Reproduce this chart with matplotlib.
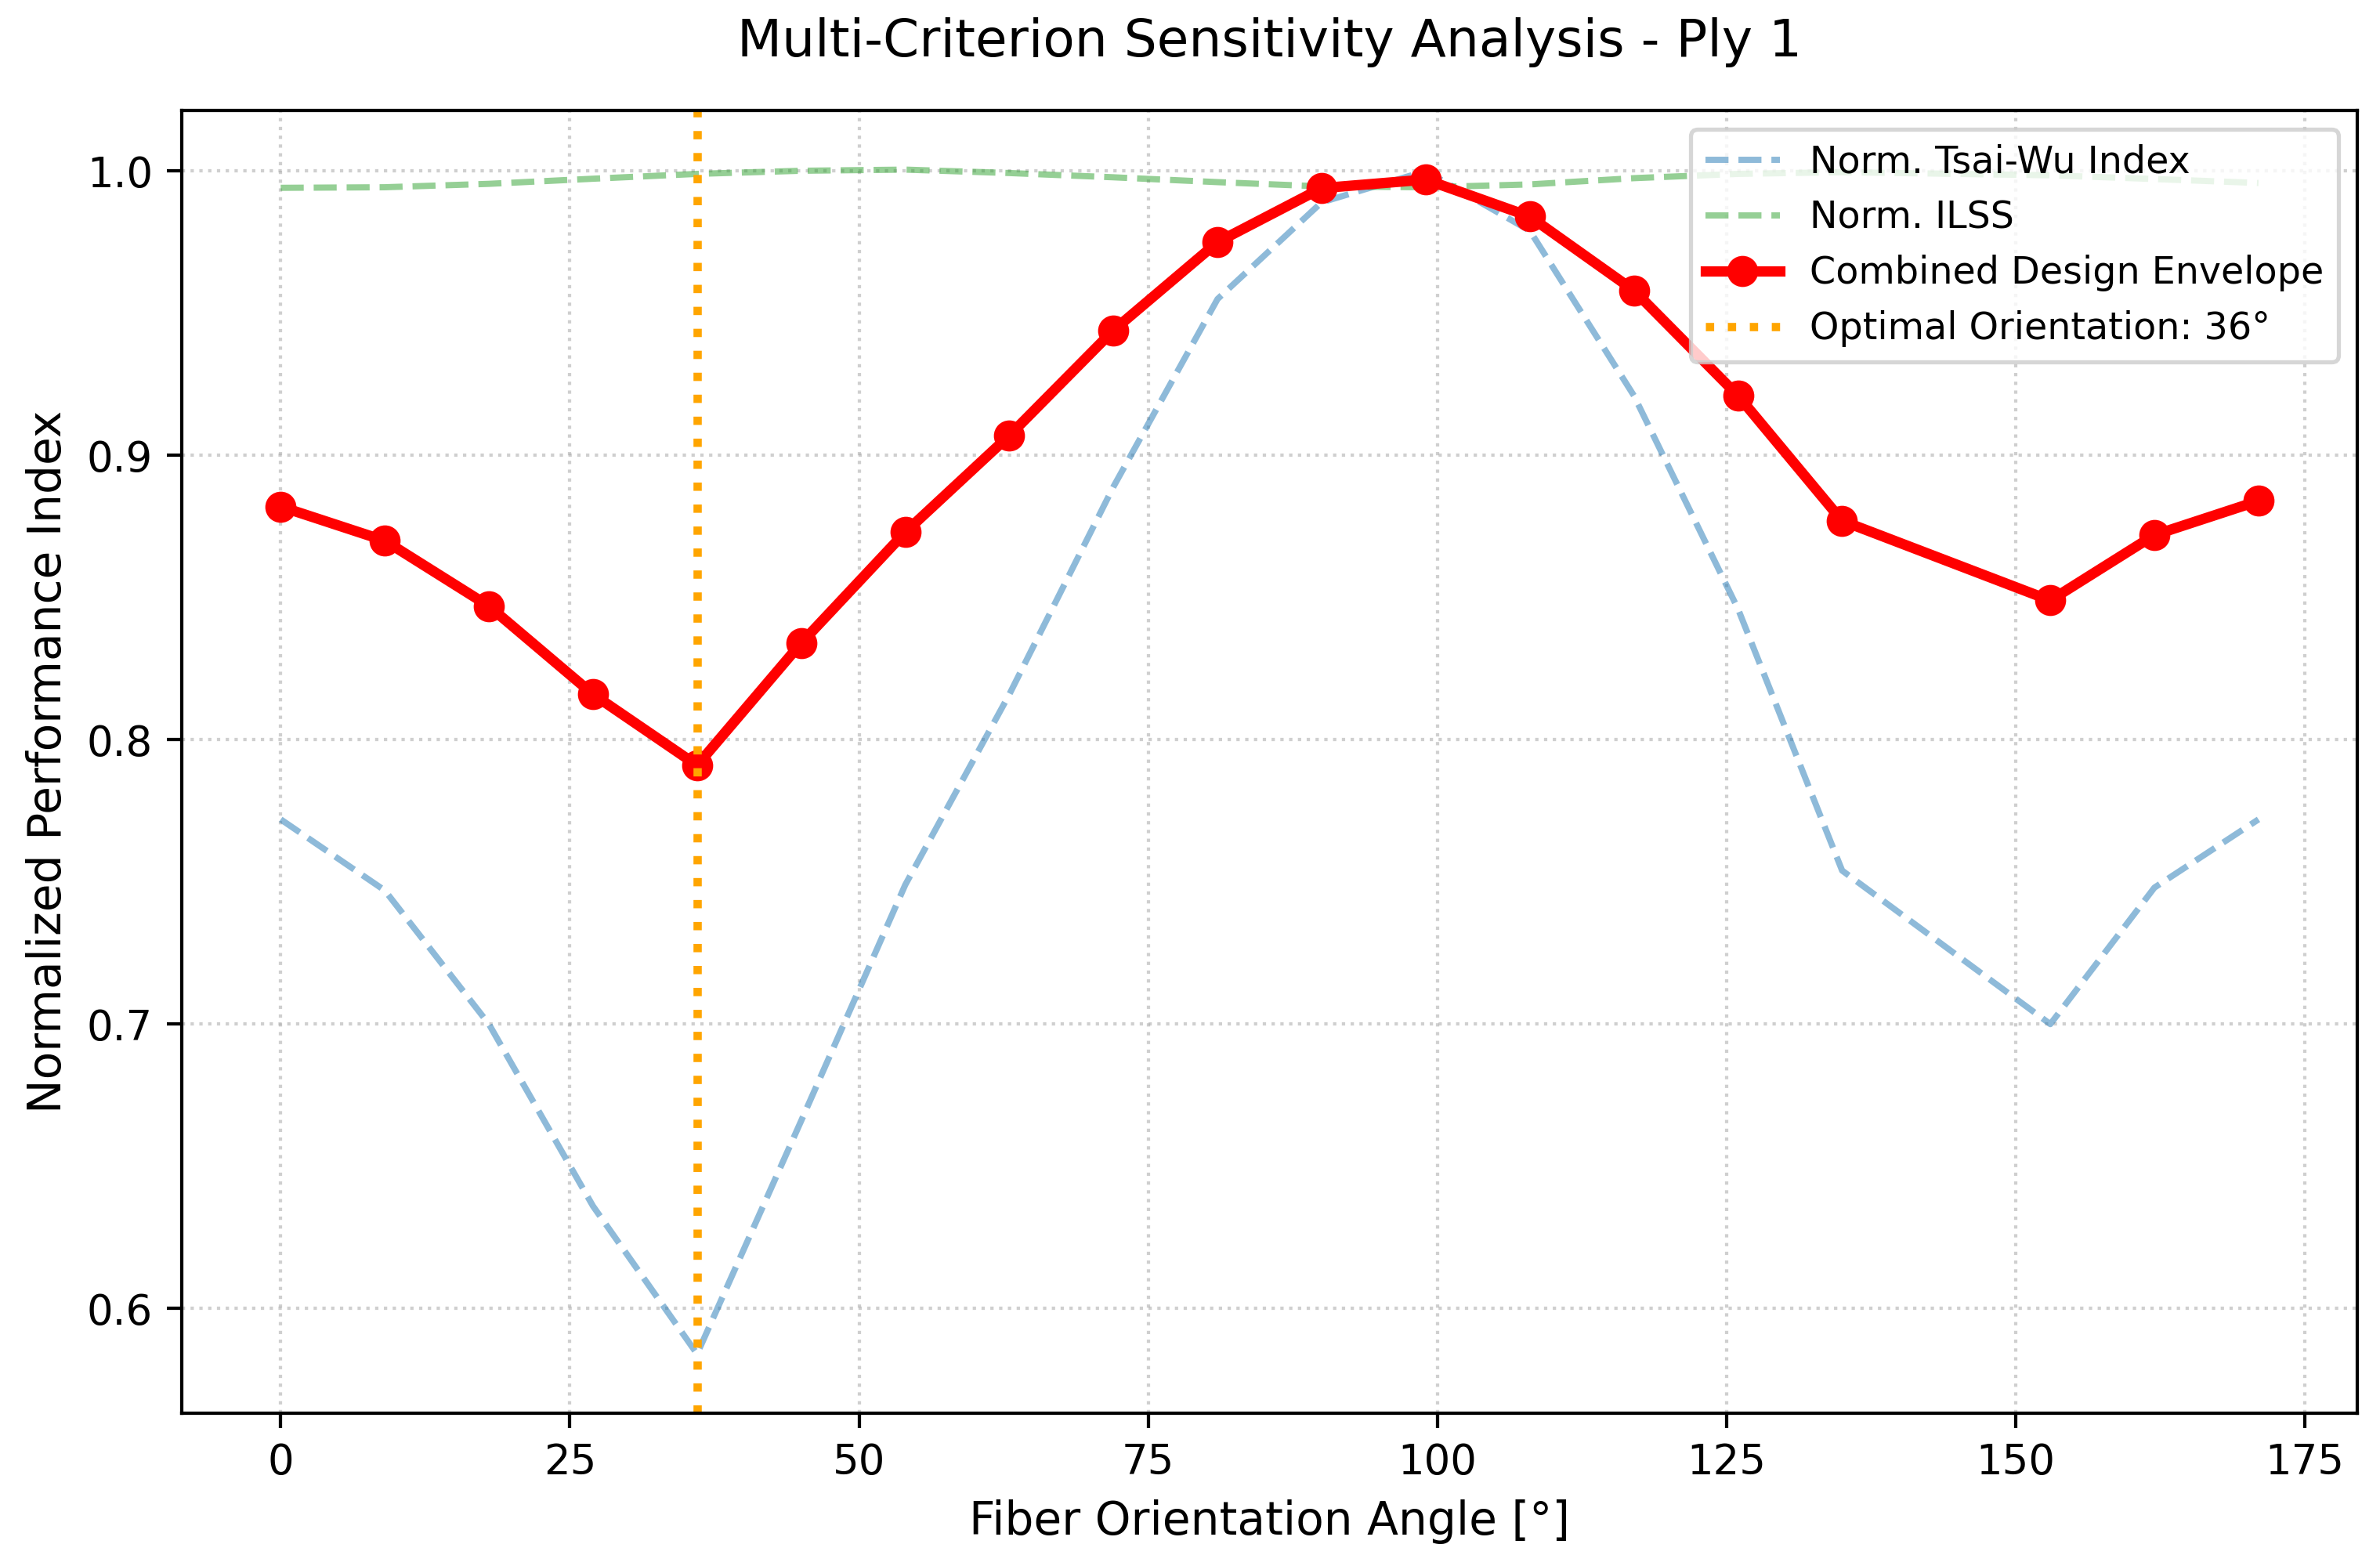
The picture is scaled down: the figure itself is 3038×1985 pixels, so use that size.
import matplotlib
matplotlib.use('Agg')
import matplotlib.pyplot as plt

# fiber angles (deg) - 144 is not in the sweep
angles = [0, 9, 18, 27, 36, 45, 54, 63, 72, 81, 90, 99, 108, 117, 126, 135, 153, 162, 171]

tsai_wu = [0.772, 0.747, 0.700, 0.636, 0.584, 0.666, 0.749, 0.816, 0.889, 0.955,
           0.989, 1.000, 0.979, 0.921, 0.846, 0.754, 0.700, 0.748, 0.772]

ilss = [0.9941, 0.9943, 0.9955, 0.9973, 0.9990, 1.0001, 1.0005, 0.9993, 0.9978, 0.9961,
        0.9946, 0.9943, 0.9953, 0.9975, 0.9990, 0.9996, 0.9985, 0.9972, 0.9958]

combined = [0.882, 0.870, 0.847, 0.816, 0.791, 0.834, 0.873, 0.907, 0.944, 0.975,
            0.994, 0.997, 0.984, 0.958, 0.921, 0.877, 0.849, 0.872, 0.884]

opt_angle = 36

fig = plt.figure(figsize=(3038/381, 1985/381), dpi=381)
ax = fig.add_axes([0.0764, 0.0912, 0.9141, 0.8378])

ax.plot(angles, tsai_wu, '--', color='tab:blue', alpha=0.5, linewidth=1.5, label='Norm. Tsai-Wu Index')
ax.plot(angles, ilss, '--', color='tab:green', alpha=0.5, linewidth=1.5, label='Norm. ILSS')
ax.plot(angles, combined, 'o-', color='red', linewidth=2.5, markersize=6.5, label='Combined Design Envelope')
ax.axvline(opt_angle, color='orange', linestyle=':', linewidth=2, label=f'Optimal Orientation: {opt_angle}°')

ax.set_title('Multi-Criterion Sensitivity Analysis - Ply 1', fontsize=12.5, pad=13)
ax.set_xlabel('Fiber Orientation Angle [°]', fontsize=11)
ax.set_ylabel('Normalized Performance Index', fontsize=11)
ax.tick_params(labelsize=10)
ax.grid(True, linestyle=':', alpha=0.6)
ax.legend(loc='upper right', fontsize=9)

fig.savefig('out.png', dpi=381)
plt.close(fig)
